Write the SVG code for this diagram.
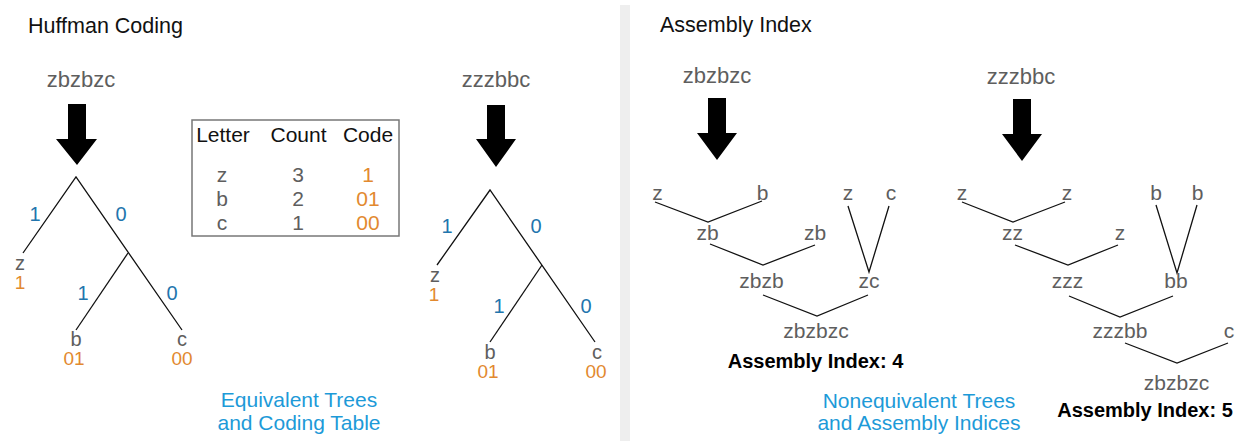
<svg xmlns="http://www.w3.org/2000/svg" width="1250" height="441" viewBox="0 0 1250 441">
<style>
text{font-family:"Liberation Sans",Arial,sans-serif}
.title{font-size:21.5px;fill:#111}
.str{font-size:22px;fill:#5e5e5e;text-anchor:middle}
.nd{font-size:21px;fill:#5e5e5e;text-anchor:middle}
.leaf{font-size:20px;fill:#5e5e5e;text-anchor:middle}
.bit{font-size:20px;fill:#2275ad;text-anchor:middle}
.code{font-size:19px;fill:#e2892f;text-anchor:middle}
.tcode{font-size:21px;fill:#e2892f;text-anchor:middle}
.hdr{font-size:21px;fill:#111;text-anchor:middle}
.cell{font-size:21px;fill:#5e5e5e;text-anchor:middle}
.cap{font-size:21px;fill:#1d9ad8;text-anchor:middle}
.ai{font-size:20px;font-weight:bold;fill:#000;text-anchor:middle}
.ln{stroke:#111;stroke-width:1.3;fill:none}
.arrow{fill:#000}
</style>
<rect width="1250" height="441" fill="#fff"/>
<rect id="divider" x="620" y="5" width="10" height="436" fill="#eeeeee"/>

<g id="connectors">
  <polyline class="ln" points="23,253 76,177 182,330"/>
  <line class="ln" x1="128" y1="253" x2="76" y2="330"/>
  <polyline class="ln" points="437,265 490,190 595,342"/>
  <line class="ln" x1="542" y1="265" x2="490" y2="342"/>
  <polyline class="ln" points="655,202 708,222 762,201"/>
  <polyline class="ln" points="710,244 763,265 815,245"/>
  <polyline class="ln" points="848,206 869,272 889,206"/>
  <polyline class="ln" points="763,295 817,316 868,295"/>
  <polyline class="ln" points="962,202 1013,222 1065,202"/>
  <polyline class="ln" points="1015,245 1068,265 1118,245"/>
  <polyline class="ln" points="1156,205 1177,273 1197,205"/>
  <polyline class="ln" points="1069,296 1120,317 1173,296"/>
  <polyline class="ln" points="1125,343 1177,363 1228,343"/>
  <polygon class="arrow" points="68,104 86,104 86,139 97,139 77,165 56,139 68,139"/>
  <polygon class="arrow" points="487,105 505,105 505,139 516,139 496,167 476,139 487,139"/>
  <polygon class="arrow" points="708,98 726,98 726,133 737,133 717,160 697,133 708,133"/>
  <polygon class="arrow" points="1013,99 1031,99 1031,134 1042,134 1022,161 1002,134 1013,134"/>
</g>

<g id="huffman-title"><text class="title" x="28" y="33">Huffman Coding</text></g>
<g id="assembly-title"><text class="title" x="660" y="32">Assembly Index</text></g>

<g id="h1-input"><text class="str" x="81" y="87">zbzbzc</text></g>
<g id="h1-edges">
  <text class="bit" x="35" y="221">1</text>
  <text class="bit" x="121" y="221">0</text>
  <text class="bit" x="83" y="300">1</text>
  <text class="bit" x="172" y="300">0</text>
</g>
<g id="h1-z"><text class="leaf" x="20" y="270">z</text><text class="code" x="20" y="289">1</text></g>
<g id="h1-b"><text class="leaf" x="76" y="346">b</text><text class="code" x="74" y="365">01</text></g>
<g id="h1-c"><text class="leaf" x="182" y="346">c</text><text class="code" x="182" y="365">00</text></g>

<g id="table">
  <rect x="192" y="120" width="207" height="116" fill="#fff" stroke="#777" stroke-width="1.5"/>
  <text class="hdr" x="223" y="142">Letter</text>
  <text class="hdr" x="298.5" y="142">Count</text>
  <text class="hdr" x="368" y="142">Code</text>
  <text class="cell" x="222" y="182">z</text>
  <text class="cell" x="298" y="182">3</text>
  <text class="tcode" x="368" y="182">1</text>
  <text class="cell" x="222" y="206">b</text>
  <text class="cell" x="298" y="206">2</text>
  <text class="tcode" x="368" y="206">01</text>
  <text class="cell" x="222" y="230">c</text>
  <text class="cell" x="298" y="230">1</text>
  <text class="tcode" x="368" y="230">00</text>
</g>

<g id="h2-input"><text class="str" x="496" y="87">zzzbbc</text></g>
<g id="h2-edges">
  <text class="bit" x="447" y="233">1</text>
  <text class="bit" x="536" y="233">0</text>
  <text class="bit" x="499" y="313">1</text>
  <text class="bit" x="586" y="313">0</text>
</g>
<g id="h2-z"><text class="leaf" x="435" y="282">z</text><text class="code" x="434" y="301">1</text></g>
<g id="h2-b"><text class="leaf" x="490" y="359">b</text><text class="code" x="488" y="378">01</text></g>
<g id="h2-c"><text class="leaf" x="597" y="359">c</text><text class="code" x="596" y="378">00</text></g>

<g id="caption-left">
  <text class="cap" x="299" y="407">Equivalent Trees</text>
  <text class="cap" x="299" y="430">and Coding Table</text>
</g>

<g id="a1-input"><text class="str" x="717" y="83">zbzbzc</text></g>
<g id="a1-z1"><text class="nd" x="657.5" y="200">z</text></g>
<g id="a1-b1"><text class="nd" x="762.5" y="200">b</text></g>
<g id="a1-z2"><text class="nd" x="848" y="200">z</text></g>
<g id="a1-c"><text class="nd" x="891" y="200">c</text></g>
<g id="a1-zb1"><text class="nd" x="707.5" y="240">zb</text></g>
<g id="a1-zb2"><text class="nd" x="815" y="240">zb</text></g>
<g id="a1-zbzb"><text class="nd" x="761.5" y="288">zbzb</text></g>
<g id="a1-zc"><text class="nd" x="869" y="288">zc</text></g>
<g id="a1-out"><text class="nd" x="816" y="338">zbzbzc</text></g>
<g id="a1-index"><text class="ai" x="815.5" y="368">Assembly Index: 4</text></g>

<g id="a2-input"><text class="str" x="1021" y="84">zzzbbc</text></g>
<g id="a2-z1"><text class="nd" x="962" y="200">z</text></g>
<g id="a2-z2"><text class="nd" x="1067" y="200">z</text></g>
<g id="a2-b1"><text class="nd" x="1156" y="200">b</text></g>
<g id="a2-b2"><text class="nd" x="1197.5" y="200">b</text></g>
<g id="a2-zz"><text class="nd" x="1012.5" y="240">zz</text></g>
<g id="a2-z3"><text class="nd" x="1120" y="240">z</text></g>
<g id="a2-zzz"><text class="nd" x="1067.5" y="288">zzz</text></g>
<g id="a2-bb"><text class="nd" x="1176" y="288">bb</text></g>
<g id="a2-zzzbb"><text class="nd" x="1120" y="338">zzzbb</text></g>
<g id="a2-c"><text class="nd" x="1229" y="338">c</text></g>
<g id="a2-out"><text class="nd" x="1176.5" y="390">zbzbzc</text></g>
<g id="a2-index"><text class="ai" x="1145" y="417">Assembly Index: 5</text></g>

<g id="caption-right">
  <text class="cap" x="919" y="408">Nonequivalent Trees</text>
  <text class="cap" x="919" y="430">and Assembly Indices</text>
</g>
</svg>
